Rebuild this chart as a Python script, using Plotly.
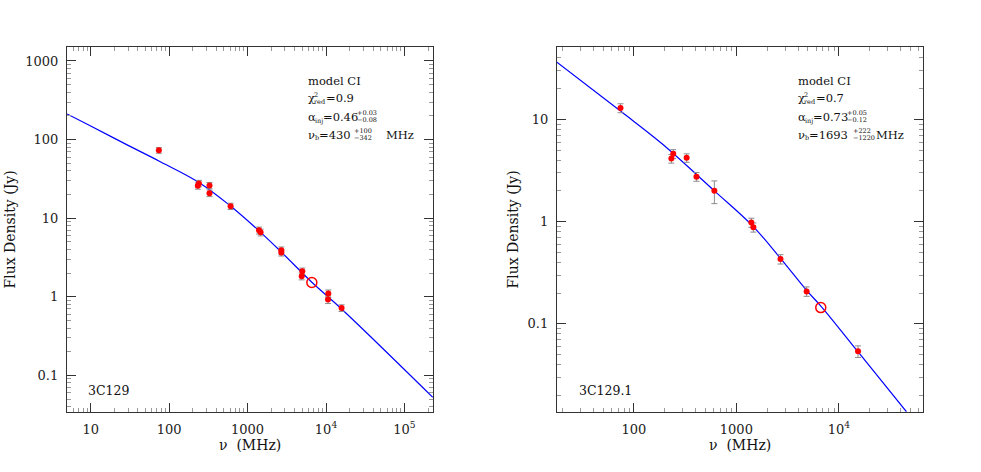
import plotly.graph_objects as go

W, H = 981, 472
SERIF = "DejaVu Serif"

# 3C129 (left panel)
freq_a = [74, 232, 240, 327, 327, 608, 1400, 1465, 2695, 2695, 4990, 4900, 10700, 10600, 15800]
flux_a = [73, 25.8, 27.7, 26.1, 20.8, 14.2, 7.0, 6.6, 3.9, 3.65, 2.12, 1.82, 1.10, 0.92, 0.72]
err_a = [6, 2.4, 2.6, 2.4, 2.0, 1.3, 0.7, 0.65, 0.4, 0.35, 0.2, 0.18, 0.12, 0.1, 0.07]
open_freq_a = [6600]
open_flux_a = [1.52]
model_freq_a = [5.0, 10, 30, 74, 240, 600, 1400, 2700, 6600, 15800, 230000]
model_flux_a = [212, 148.6, 84.4, 53.5, 28.5, 14.4, 6.9, 3.7, 1.53, 0.70, 0.0526]

# 3C129.1 (right panel)
freq_b = [74, 232, 242, 327, 408, 610, 1400, 1465, 2695, 4850, 15400]
flux_b = [12.9, 4.13, 4.6, 4.2, 2.75, 2.0, 0.98, 0.88, 0.43, 0.208, 0.054]
err_b = [1.3, 0.4, 0.45, 0.4, 0.27, 0.5, 0.1, 0.09, 0.045, 0.022, 0.007]
open_freq_b = [6670]
open_flux_b = [0.1445]
model_freq_b = [17.7, 75, 187, 610, 1440, 2735, 4900, 6780, 15800, 45700]
model_flux_b = [36.2, 11.9, 5.8, 2.0, 0.91, 0.43, 0.21, 0.147, 0.0517, 0.01387]

# tick labels
xtick_a = [10, 100, 1000, 1e4, 1e5]
xtext_a = ["10", "100", "1000", "10<sup>4</sup>", "10<sup>5</sup>"]
ytick_a = [0.1, 1, 10, 100, 1000]
ytext_a = ["0.1", "1", "10", "100", "1000"]
xtick_b = [100, 1000, 1e4]
xtext_b = ["100", "1000", "10<sup>4</sup>"]
ytick_b = [0.1, 1, 10]
ytext_b = ["0.1", "1", "10"]

minor_vals = [m * 10 ** e for e in range(-3, 7) for m in range(2, 10)]


def px(x):
    return x / W


def py(y):
    return 1 - y / H


def add_panel(fig, xa, ya, freq, flux, err, ofreq, oflux, mfreq, mflux):
    fig.add_trace(go.Scatter(x=mfreq, y=mflux, mode="lines", xaxis=xa, yaxis=ya,
                             line=dict(color="#0000ff", width=1.2, shape="spline", smoothing=1.0)))
    fig.add_trace(go.Scatter(x=freq, y=flux, mode="markers", xaxis=xa, yaxis=ya,
                             marker=dict(color="#ff0000", size=6),
                             error_y=dict(type="data", array=err, color="#8c8c8c",
                                          thickness=1, width=3)))
    fig.add_trace(go.Scatter(x=ofreq, y=oflux, mode="markers", xaxis=xa, yaxis=ya,
                             marker=dict(symbol="circle-open", color="#ff0000", size=10,
                                         line=dict(width=1.5))))


def axis(rng, domain, anchor, vals, text):
    return dict(type="log", range=rng, domain=domain, anchor=anchor,
                tickvals=vals, ticktext=text, ticks="inside", ticklen=9,
                tickcolor="#333", tickwidth=1, mirror="allticks", showline=True,
                linecolor="#333", linewidth=1.3, showgrid=False, zeroline=False,
                ticklabelstandoff=5, automargin=False,
                tickfont=dict(family=SERIF, size=13, color="#222"),
                minor=dict(tickvals=minor_vals, ticks="inside", ticklen=4,
                           tickcolor="#999", tickwidth=1, showgrid=False))


def label(x, y, text, size=11, **kw):
    d = dict(x=px(x), y=py(y), xref="paper", yref="paper", text=text,
             showarrow=False, xanchor="left", yanchor="middle",
             font=dict(family=SERIF, size=size, color="#111"))
    d.update(kw)
    return d


fig = go.Figure()
add_panel(fig, "x", "y", freq_a, flux_a, err_a, open_freq_a, open_flux_a, model_freq_a, model_flux_a)
add_panel(fig, "x2", "y2", freq_b, flux_b, err_b, open_freq_b, open_flux_b, model_freq_b, model_flux_b)

ydom = [py(412), py(47)]
fig.update_layout(
    width=W, height=H, showlegend=False,
    margin=dict(l=0, r=0, t=0, b=0),
    paper_bgcolor="white", plot_bgcolor="white",
    xaxis=axis([0.698, 5.364], [px(67), px(433)], "y", xtick_a, xtext_a),
    yaxis=axis([-1.466, 3.178], ydom, "x", ytick_a, ytext_a),
    xaxis2=axis([1.249, 4.822], [px(557), px(923)], "y2", xtick_b, xtext_b),
    yaxis2=axis([-1.861, 1.707], ydom, "x2", ytick_b, ytext_b),
)

MAIN, SMALL = 11.5, 6.5
ann = []
for dx, chi, alpha, asup, asub, nub, nsup, nsub, supx, mhz in [
    (0, "=0.9", "=0.46", "+0.03", "−0.08", "=430", "+100", "−342", 352.0, 384.3),
    (490, "=0.7", "=0.73", "+0.05", "−0.12", "=1693", "+222", "−1220", 361.0, 383.5),
]:
    ann += [
        label(305.5 + dx, 80.7, "model CI", 11.5),
        label(305.5 + dx, 98.3, "χ", MAIN),
        label(311.7 + dx, 94.8, "2", SMALL),
        label(311.7 + dx, 101.8, "red", SMALL),
        label(323.5 + dx, 98.3, chi, MAIN),
        label(305.5 + dx, 116.7, "α", MAIN),
        label(312.5 + dx, 120.5, "inj", SMALL),
        label(321.0 + dx, 116.7, alpha, MAIN),
        label(355.0 + dx, 112.7, asup, SMALL),
        label(355.0 + dx, 119.8, asub, SMALL),
        label(305.5 + dx, 135.0, "ν", MAIN),
        label(312.6 + dx, 138.3, "b", SMALL),
        label(317.0 + dx, 135.0, nub, MAIN),
        label(supx + dx, 131.4, nsup, SMALL),
        label(supx + dx, 138.4, nsub, SMALL),
        label(mhz + dx, 135.0, "MHz", MAIN),
    ]

ann += [
    label(86, 390, "3C129", 12.5),
    label(577, 390, "3C129.1", 12.5),
    label(250, 445, "ν  (MHz)", 14, xanchor="center"),
    label(740, 445, "ν  (MHz)", 14, xanchor="center"),
    label(9, 229.5, "Flux Density (Jy)", 14, xanchor="center", textangle=-90),
    label(512, 229.5, "Flux Density (Jy)", 14, xanchor="center", textangle=-90),
]
fig.update_layout(annotations=ann)

fig.write_html("out.html", config={"displayModeBar": False},
               post_script="document.body.style.margin='0px';")
